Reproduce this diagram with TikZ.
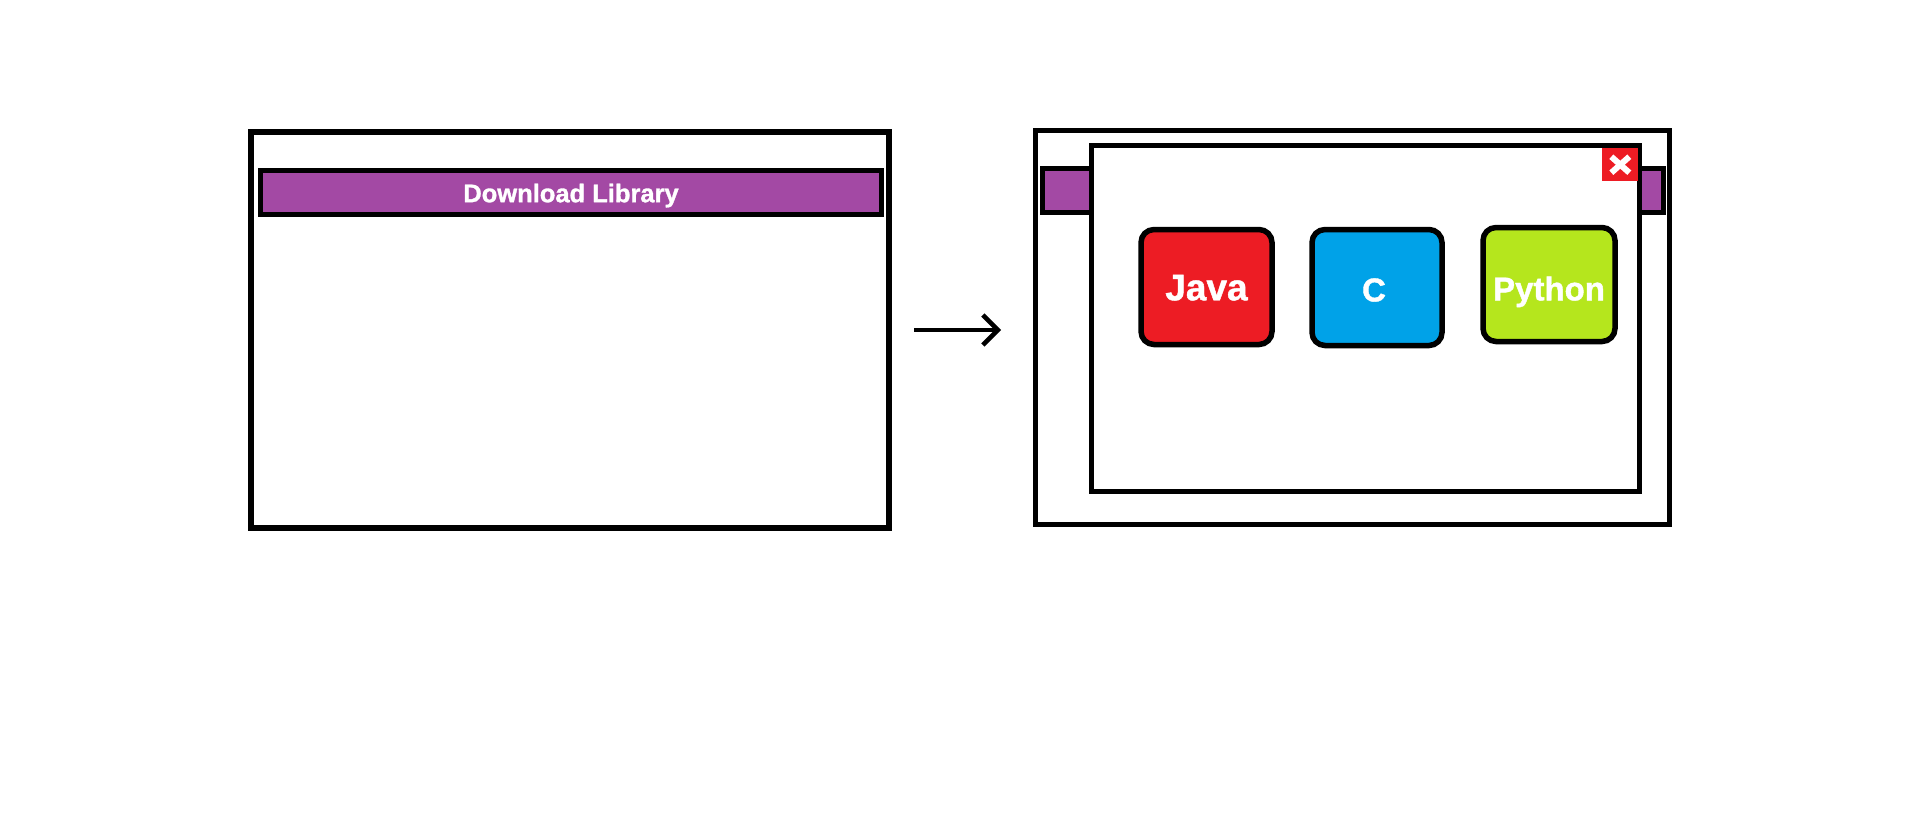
\documentclass[tikz,border=0pt]{standalone}
\usepackage{fontspec}
\setmainfont{Liberation Sans}[BoldFeatures={FakeBold=1.2}]
\usetikzlibrary{arrows.meta}
\definecolor{paintpurple}{HTML}{A349A4}
\definecolor{paintred}{HTML}{ED1C24}
\definecolor{paintblue}{HTML}{00A2E8}
\definecolor{paintlime}{HTML}{B5E61D}
\begin{document}
\begin{tikzpicture}[x=1pt,y=-1pt,
  win/.style={draw=black, line width=5.5pt, fill=white, rectangle, inner sep=0pt},
  bar/.style={draw=black, line width=5.5pt, fill=paintpurple, rectangle, inner sep=0pt,
    text=white, font=\bfseries\fontsize{25.5}{30}\selectfont, text height=19.4pt, text depth=0pt},
  lang/.style={draw=black, line width=5.5pt, rectangle, rounded corners=13pt, inner sep=0pt,
    text=white, text depth=0pt},
  closebtn/.style={fill=paintred, rectangle, inner sep=0pt, minimum width=36pt, minimum height=33pt},
  conn/.style={line width=4.5pt, -{Straight Barb[length=15pt,width=30pt,line width=4.5pt]}}
]
\useasboundingbox (0,0) rectangle (1914,838);
\fill[white] (0,0) rectangle (1914,838);

% left window
\node[win, minimum width=638pt, minimum height=396pt] (lw) at (570,330) {};
\node[bar, minimum width=621pt, minimum height=44pt] (lbar) at (571,192.5) {Download Library};

% right window
\node[win, minimum width=634pt, minimum height=394pt] (rw) at (1352.5,327.5) {};
\node[bar, minimum width=621pt, minimum height=44pt] (rbar) at (1353,190.5) {};
\node[win, minimum width=548pt, minimum height=346pt] (dlg) at (1365.5,318.5) {};
\node[closebtn, anchor=north east] (close) at (1638.5,148) {};
\draw[white, line width=6pt] ([shift={(-9pt,-8pt)}]close.center) -- ([shift={(9pt,8pt)}]close.center);
\draw[white, line width=6pt] ([shift={(-9pt,8pt)}]close.center) -- ([shift={(9pt,-8pt)}]close.center);

\node[lang, fill=paintred, minimum width=131pt, minimum height=115pt,
  font=\bfseries\fontsize{37}{40}\selectfont, text height=26.5pt] (java) at (1206.5,287) {Java};
\node[lang, fill=paintblue, minimum width=130pt, minimum height=116pt,
  font=\bfseries\fontsize{33}{36}\selectfont, text height=27.8pt] (c) at (1377,287.5) {\hspace*{-6pt}C};
\node[lang, fill=paintlime, minimum width=132pt, minimum height=114pt,
  font=\bfseries\fontsize{33}{36}\selectfont, text height=31.8pt] (python) at (1549,284.5) {Python};

% arrow
\coordinate (a1) at (914,330);
\coordinate (a2) at (1001,330);
\draw[conn] (a1) -- (a2);
\end{tikzpicture}
\end{document}
